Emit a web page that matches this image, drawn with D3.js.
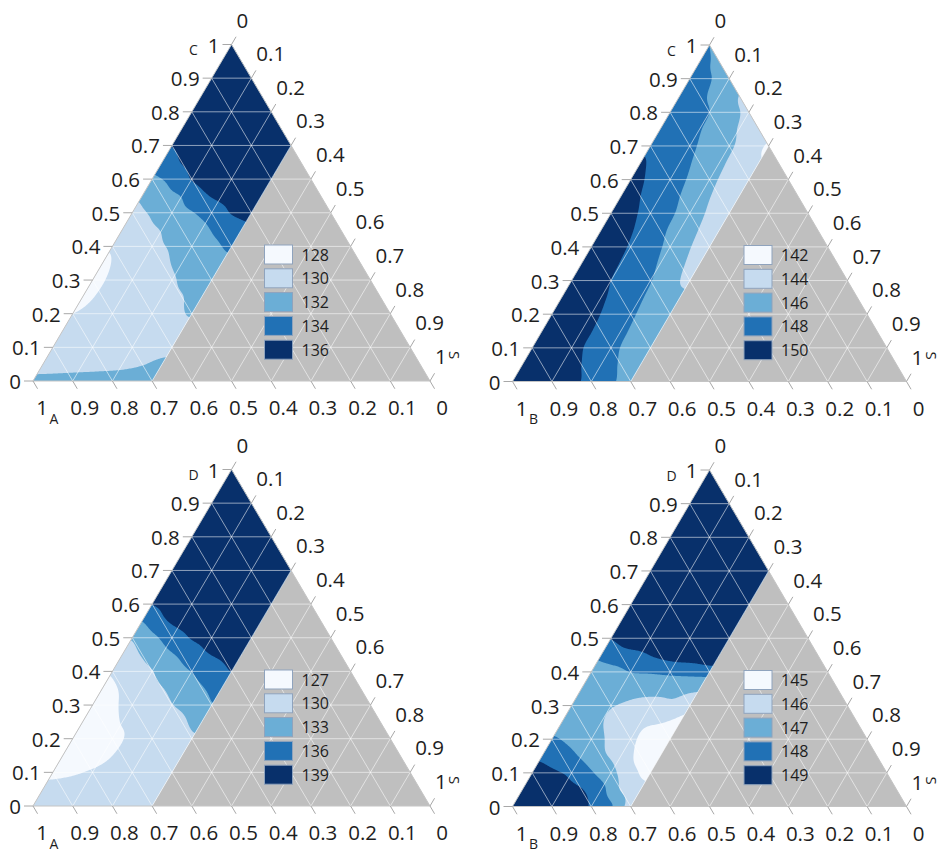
<!DOCTYPE html>
<html><head><meta charset="utf-8">
<script src="https://cdn.jsdelivr.net/npm/d3@7"></script>
<style>
html,body{margin:0;padding:0;background:#fff;}
svg{display:block;font-family:"Open Sans","DejaVu Sans",sans-serif;}
</style></head><body>
<svg id="chart" width="940" height="852"></svg>
<script>
// ---- grid coordinates (ternary fractions) ----
const cLevels = [0,0.05,0.1,0.15,0.2,0.25,0.3,0.35,0.4,0.45,0.5,0.55,0.6,0.65,0.7,0.75,0.8,0.85,0.9,0.95,1];
const sLevels = [0,0.05,0.1,0.15,0.2,0.25,0.3];
const tickValues = [0,0.1,0.2,0.3,0.4,0.5,0.6,0.7,0.8,0.9,1];
const tickLabels = ["0","0.1","0.2","0.3","0.4","0.5","0.6","0.7","0.8","0.9","1"];
const bandColors = ["#f5f9fe","#c6dbef","#6baed6","#2171b5","#08306b"];

// ---- Panel 1 : A / C / S (one column of values along C for each S level) ----
const legendACS = [128,130,132,134,136];
const gridACS = [
 [132.6,131.0,130.7,130.3,130.0,129.6,129.5,129.7,130.2,130.9,131.6,132.3,133.7,134.8,136.1,137.0,137.5,138,138,138,138],
 [132.6,131.2,130.9,130.6,130.4,130.3,130.3,130.5,130.9,131.5,132.2,133.3,134.5,136.1,137.0,137.5,138,138,138,138,138],
 [132.7,131.3,131.0,130.8,130.7,130.7,130.8,131.1,131.6,132.1,133.2,134.1,136.1,137.0,137.5,138,138,138,138,138,138],
 [132.8,131.4,131.1,131.0,131.0,131.1,131.3,131.7,132.2,133.0,133.9,135.6,137.0,137.5,138,138,138,138,138,138,138],
 [133.0,131.5,131.3,131.3,131.4,131.6,131.85,132.4,133.0,133.6,134.8,136.5,137.2,137.8,138,138,138,138,138,138,138],
 [133.2,131.9,131.6,131.6,131.7,131.95,132.5,133.1,133.6,134.6,136.1,137.0,137.5,138,138,138,138,138,138,138,138],
 [133.5,132.4,131.6,131.7,132.1,132.6,133.0,133.6,134.3,135.5,136.5,137.2,137.6,138,138,138,138,138,138,138,138]
];

// ---- Panel 2 : B / C / S (one row of values along S for each C level) ----
const legendBCS = [142,144,146,148,150];
const gridBCSrows = [
 [153.7,152.6,151.5,150.5,149.4,148.3,147.2],
 [153.2,152.2,151.1,150.0,148.9,147.8,146.5],
 [152.8,151.7,150.6,149.6,148.5,147.4,146.3],
 [152.7,151.6,150.6,149.5,148.4,147.3,146.2],
 [152.6,151.5,150.5,149.4,148.3,147.2,146.15],
 [152.3,151.3,150.3,149.2,148.2,147.0,146.4],
 [152.0,151.0,150.0,149.1,148.1,146.7,145.5],
 [152.0,151.0,149.9,148.9,147.8,146.4,145.0],
 [152.0,150.9,149.8,148.7,147.5,146.1,144.7],
 [151.8,150.7,149.6,148.4,147.2,145.9,144.5],
 [151.5,150.4,149.3,148.3,147.0,145.7,144.4],
 [151.0,150.0,149.0,148.0,146.8,145.4,144.3],
 [150.6,149.7,148.8,147.8,146.6,145.2,144.2],
 [150.2,149.3,148.5,147.6,146.4,145.2,144.1],
 [149.7,149.0,148.3,147.4,146.3,145.1,143.8],
 [149.4,148.8,148.1,147.1,145.9,145.2,144.4],
 [149.1,148.5,148.0,146.6,145.6,144.8,144.0],
 [148.9,148.3,147.4,146.0,145.0,144.5,144.0],
 [148.6,148.1,147.0,146.4,145.5,145.0,144.5],
 [148.5,147.5,146.5,146.0,145.5,145.0,144.5],
 [148.0,147.0,146.5,146.0,145.5,145.0,144.5]
];

// ---- Panel 3 : A / D / S (columns along C for each S level) ----
const legendADS = [127,130,133,136,139];
const gridADS = [
 [131.0,130.5,129.6,129.0,128.6,128.5,128.7,129.3,130.3,131.7,133.3,136.1,139.1,140.5,141.0,141.5,141.5,142,142,142,142],
 [131.2,130.7,129.8,129.3,129.0,129.1,129.6,130.3,131.6,133.2,135.3,138.5,140.2,141.0,141.5,141.5,142,142,142,142,142],
 [131.5,131.0,130.2,129.6,129.6,130.1,130.9,131.9,132.9,135.0,137.4,140.0,140.8,141.2,141.5,141.5,142,142,142,142,142],
 [131.6,131.2,130.7,130.4,130.3,130.6,131.4,132.9,134.6,136.6,139.2,140.5,141.0,141.5,141.5,142,142,142,142,142,142],
 [131.7,131.4,131.0,130.8,130.9,131.6,132.9,134.5,136.1,138.5,140.0,141.0,141.5,141.5,142,142,142,142,142,142,142],
 [131.8,131.6,131.3,131.2,131.6,132.6,134.0,135.8,137.5,139.5,140.5,141.0,141.5,141.5,142,142,142,142,142,142,142],
 [131.9,131.8,131.6,131.8,132.6,134.0,135.8,137.2,139.05,140.3,141.0,141.5,141.5,142,142,142,142,142,142,142,142]
];

// ---- Panel 4 : B / D / S (columns along C for each S level) ----
const legendBDS = [145,146,147,148,149];
const gridBDS = [
 [150.3,149.9,149.4,148.8,148.1,147.7,147.5,147.5,147.7,148.2,149.05,149.6,150.0,150.3,150.3,150.3,150.4,150.4,150.5,150.5,150.5],
 [150.1,149.6,149.15,148.4,147.8,147.4,147.25,147.3,147.7,148.6,149.5,149.9,150.2,150.3,150.3,150.3,150.4,150.4,150.5,150.5,150.5],
 [149.8,149.35,148.8,147.9,147.4,147.05,147.05,147.4,148.02,148.85,149.6,150.0,150.2,150.3,150.3,150.3,150.4,150.4,150.5,150.5,150.5],
 [149.5,149.05,148.1,147.2,146.8,146.6,146.85,147.3,148.1,149.2,149.8,150.2,150.3,150.3,150.3,150.3,150.4,150.4,150.5,150.5,150.5],
 [148.9,148.3,147.3,146.6,146.2,146.15,146.6,147.4,148.2,149.5,150.0,150.2,150.3,150.3,150.3,150.3,150.4,150.4,150.5,150.5,150.5],
 [148.1,146.95,146.3,145.7,145.6,146.05,146.8,147.3,148.3,149.6,150.0,150.2,150.3,150.3,150.3,150.3,150.4,150.4,150.5,150.5,150.5],
 [146.6,146.3,145.7,145.3,145.4,145.8,146.3,147.2,148.4,150.0,150.3,150.3,150.3,150.3,150.3,150.3,150.4,150.4,150.5,150.5,150.5]
];

// ---- layout ----
const H = 336.5;
const panels = [
  {x0:33,    yb:381,   w:397, grid:gridACS,                   legend:legendACS, left:"C", bottom:"A"},
  {x0:512.5, yb:381.5, w:394, grid:d3.transpose(gridBCSrows), legend:legendBCS, left:"C", bottom:"B"},
  {x0:33,    yb:806,   w:397, grid:gridADS,                   legend:legendADS, left:"D", bottom:"A"},
  {x0:512.5, yb:806.5, w:394, grid:gridBDS,                   legend:legendBDS, left:"D", bottom:"B"}
];

const svg = d3.select("#chart");
const defs = svg.append("defs");
const sMax = sLevels[sLevels.length-1];
const cStep = cLevels[1]-cLevels[0], sStep = sLevels[1]-sLevels[0];
const clamp = (v,a,b)=>Math.max(a,Math.min(b,v));
// Catmull-Rom weights for smooth resampling of the read grid
function crw(t){
  const t2=t*t, t3=t2*t;
  return [(-t3+2*t2-t)/2, (3*t3-5*t2+2)/2, (-3*t3+4*t2+t)/2, (t3-t2)/2];
}

panels.forEach((p, idx) => {
  const g = svg.append("g");
  const xy = (C, S) => [p.x0 + p.w*(S + C/2), p.yb - H*C];
  const tri = [xy(0,0), xy(0,1), xy(1,0)];
  const triD = "M" + tri.map(d=>d.join(",")).join("L") + "Z";
  defs.append("clipPath").attr("id","clip"+idx).append("path").attr("d", triD);

  g.append("path").attr("d", triD).attr("fill", "#bfbfbf");
  const cg = g.append("g").attr("clip-path", `url(#clip${idx})`);
  const region = [xy(0,0), xy(0,sMax), xy(1,sMax), xy(1,0)];
  cg.append("path").attr("d","M"+region.map(d=>d.join(",")).join("L")+"Z").attr("fill", bandColors[0]);

  const G = p.grid, nK = sLevels.length, nR = cLevels.length;
  const at = (k,r)=>G[clamp(k,0,nK-1)][clamp(r,0,nR-1)];
  const nx = 121, ny = 401;
  const vals = new Float64Array(nx*ny);
  for (let j=0;j<ny;j++){
    const C = j/(ny-1);
    const fr = C/cStep; const r0 = Math.min(Math.floor(fr), nR-2); const wr = crw(fr - r0);
    for (let i=0;i<nx;i++){
      const S = i*sMax/(nx-1);
      const fk = S/sStep; const k0 = Math.min(Math.floor(fk), nK-2); const wk = crw(fk - k0);
      let v = 0;
      for (let a=0;a<4;a++) for (let b=0;b<4;b++) v += wk[a]*wr[b]*at(k0-1+a, r0-1+b);
      vals[j*nx+i] = v;
    }
  }
  const thresholds = p.legend.slice(1);
  const contours = d3.contours().size([nx, ny]).thresholds(thresholds)(vals);
  const proj = d3.geoTransform({point(x, y){
    const S = clamp((x-0.5)/(nx-1)*sMax, 0, sMax);
    const C = clamp((y-0.5)/(ny-1), 0, 1);
    const q = xy(C, S);
    this.stream.point(q[0], q[1]);
  }});
  const path = d3.geoPath(proj);
  cg.selectAll("path.band").data(contours).join("path").attr("class","band")
    .attr("d", path).attr("fill", (d,i)=>bandColors[i+1]);

  // grid lines
  const gl = g.append("g").attr("stroke","#ffffff").attr("stroke-opacity",0.55).attr("stroke-width",1).attr("fill","none");
  tickValues.slice(1,-1).forEach(t=>{
    const segs = [[xy(t,0), xy(t,1-t)], [xy(0,t), xy(1-t,t)], [xy(0,1-t), xy(1-t,0)]];
    segs.forEach(s=>gl.append("line").attr("x1",s[0][0]).attr("y1",s[0][1]).attr("x2",s[1][0]).attr("y2",s[1][1]));
  });
  g.append("path").attr("d", triD).attr("fill","none").attr("stroke","#c4c4c4").attr("stroke-width",1);

  // axes
  const ax = g.append("g");
  const tickCol = "#a8a8a8", txtCol = "#1e1e1e", fs = 20.5;
  const len = Math.hypot(p.w/2, H), ux = (p.w/2)/len*9, uy = H/len*9;
  tickValues.forEach((v,i)=>{
    // left axis (C or D)
    let P = xy(v,0);
    ax.append("line").attr("x1",P[0]).attr("y1",P[1]).attr("x2",P[0]-9).attr("y2",P[1]).attr("stroke",tickCol);
    ax.append("text").attr("x",P[0]-12).attr("y",P[1]).attr("text-anchor","end").attr("dominant-baseline","central")
      .attr("font-size",fs).attr("fill",txtCol).text(tickLabels[i]);
    // right axis (S)
    P = xy(1-v, v);
    ax.append("line").attr("x1",P[0]).attr("y1",P[1]).attr("x2",P[0]+ux).attr("y2",P[1]-uy).attr("stroke",tickCol);
    ax.append("text").attr("x",P[0]+5).attr("y",P[1]-25).attr("text-anchor","start").attr("dominant-baseline","central")
      .attr("font-size",fs).attr("fill",txtCol).text(tickLabels[i]);
    // bottom axis (A or B)
    P = xy(0, 1-v);
    ax.append("line").attr("x1",P[0]).attr("y1",P[1]).attr("x2",P[0]+ux).attr("y2",P[1]+uy).attr("stroke",tickCol);
    ax.append("text").attr("x",P[0]+(v===1?9:12)).attr("y",P[1]+26).attr("text-anchor","middle").attr("dominant-baseline","central")
      .attr("font-size",fs).attr("fill",txtCol).text(tickLabels[i]);
  });
  const apex = xy(1,0), bl = xy(0,0), br = xy(0,1);
  ax.append("text").attr("x",apex[0]-38).attr("y",apex[1]+5).attr("text-anchor","middle").attr("dominant-baseline","central")
    .attr("font-size",14).attr("fill",txtCol).text(p.left);
  ax.append("text").attr("x",bl[0]+21).attr("y",bl[1]+37).attr("text-anchor","middle").attr("dominant-baseline","central")
    .attr("font-size",14).attr("fill",txtCol).text(p.bottom);
  ax.append("text").attr("transform",`translate(${br[0]+25},${br[1]-26}) rotate(90)`).attr("text-anchor","middle")
    .attr("dominant-baseline","central").attr("font-size",15).attr("fill",txtCol).text("S");

  // legend
  const lg = g.append("g");
  p.legend.forEach((v,i)=>{
    const y = p.yb - 136 + i*23.8;
    lg.append("rect").attr("x",p.x0+231.5).attr("y",y).attr("width",28).attr("height",19)
      .attr("fill",bandColors[i]).attr("stroke","#8fa3bd").attr("stroke-width",1);
    lg.append("text").attr("x",p.x0+268.5).attr("y",y+9.5).attr("dominant-baseline","central")
      .attr("font-size",16).attr("fill",txtCol).text(v);
  });
});
</script>
</body></html>
